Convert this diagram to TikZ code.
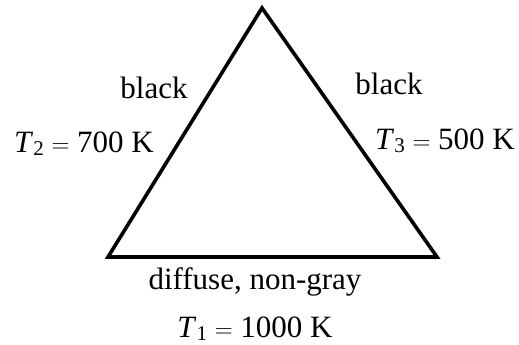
\documentclass[tikz,border=0pt]{standalone}
\usepackage{fontspec}
\setmainfont{Liberation Serif}
\newcommand{\mysub}[1]{\raisebox{-3.5pt}{\fontsize{21}{24}\selectfont #1}}
\begin{document}
\begin{tikzpicture}[x=1pt,y=-1pt,
  lbl/.style={inner sep=0pt,anchor=base,font=\fontsize{31}{36}\selectfont},
  edge/.style={line width=3.6pt,line join=miter}]
\useasboundingbox (0,0) rectangle (519,345);
\coordinate (top) at (262,8);
\coordinate (bl) at (108,257);
\coordinate (br) at (437,257);
\draw[edge] (top) -- (bl) -- (br) -- cycle;
\node[lbl] (b2) at (154,98) {black};
\node[lbl] (b3) at (389,94) {black};
\node[lbl] (t2) at (84,152) {\textit{T}\mysub{2} $=$ 700 K};
\node[lbl] (t3) at (445,149) {\textit{T}\mysub{3} $=$ 500 K};
\node[lbl] (d1) at (255,289) {diffuse, non-gray};
\node[lbl] (t1) at (255,337) {\textit{T}\mysub{1} $=$ 1000 K};
\end{tikzpicture}
\end{document}
